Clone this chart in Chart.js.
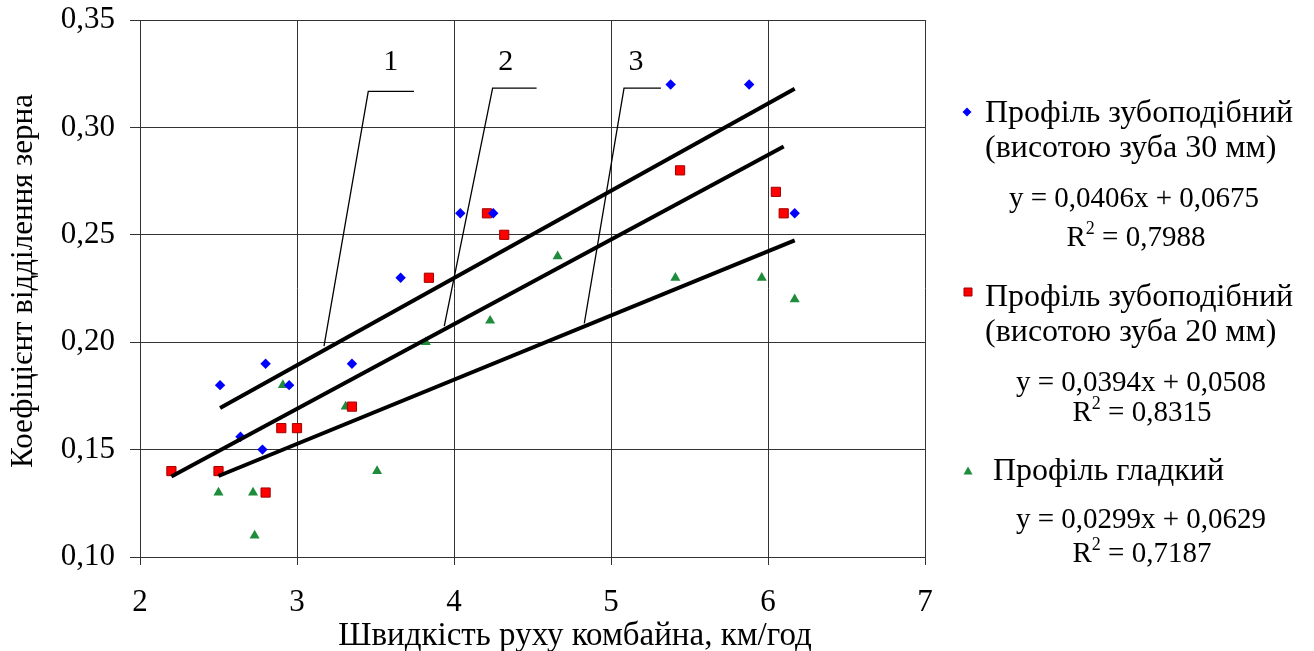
<!DOCTYPE html>
<html>
<head>
<meta charset="utf-8">
<title>Коефіцієнт відділення зерна</title>
<script src="https://cdn.jsdelivr.net/npm/chart.js"></script>
<style>
  html, body { margin: 0; padding: 0; background: #fff; }
  #wrap { position: relative; width: 1314px; height: 651px; }
</style>
</head>
<body>
<div id="wrap"><canvas id="myChart"></canvas></div>
<script>
// профіль зубоподібний, висота зуба 30 мм
const blueX = [2.51, 2.64, 2.78, 2.80, 2.95, 3.35, 3.66, 4.04, 4.25, 5.38, 5.88, 6.17];
const blueY = [0.18, 0.156, 0.15, 0.19, 0.18, 0.19, 0.23, 0.26, 0.26, 0.32, 0.32, 0.26];
// профіль зубоподібний, висота зуба 20 мм
const redX = [2.20, 2.50, 2.80, 2.90, 3.00, 3.35, 3.84, 4.21, 4.32, 5.44, 6.05, 6.10];
const redY = [0.14, 0.14, 0.13, 0.16, 0.16, 0.17, 0.23, 0.26, 0.25, 0.28, 0.27, 0.26];
// профіль гладкий
const greenX = [2.50, 2.72, 2.73, 2.91, 3.31, 3.51, 3.82, 4.23, 4.66, 5.41, 5.96, 6.17];
const greenY = [0.13, 0.13, 0.11, 0.18, 0.17, 0.14, 0.20, 0.21, 0.24, 0.23, 0.23, 0.22];

// лінії тренду (кінці ліній)
const trend1X = [2.51, 6.17];
const trend1Y = [0.1694, 0.3180];
const trend2X = [2.20, 6.10];
const trend2Y = [0.1375, 0.2911];
const trend3X = [2.50, 6.17];
const trend3Y = [0.1377, 0.2474];

// виноски 1, 2, 3
const call1X = [3.172, 3.454, 3.745];
const call1Y = [0.1982, 0.3168, 0.3168];
const call2X = [3.938, 4.246, 4.526];
const call2Y = [0.2075, 0.3183, 0.3183];
const call3X = [4.830, 5.083, 5.318];
const call3Y = [0.2088, 0.3183, 0.3183];
const callText = ['1', '2', '3'];
const callTextX = [3.597, 4.329, 5.159];
const callTextY = [0.3306, 0.3306, 0.3306];

const xTicks = [2, 3, 4, 5, 6, 7];
const yTicks = [0.10, 0.15, 0.20, 0.25, 0.30, 0.35];
const yTickLabels = ['0,10', '0,15', '0,20', '0,25', '0,30', '0,35'];

const seriesNames = [
  ['Профіль зубоподібний', '(висотою зуба 30 мм)'],
  ['Профіль зубоподібний', '(висотою зуба 20 мм)'],
  ['Профіль гладкий']
];
const eqTexts = ['y = 0,0406x + 0,0675', 'y = 0,0394x + 0,0508', 'y = 0,0299x + 0,0629'];
const r2Texts = ['0,7988', '0,8315', '0,7187'];

const xTitle = 'Швидкість руху комбайна, км/год';
const yTitle = 'Коефіцієнт відділення зерна';

const FONT = '"Liberation Serif", "Times New Roman", serif';
const BLUE = '#0000ff', RED = '#ff0000', GREEN = '#1e8c3a';

function pts(xs, ys) { return xs.map((x, i) => ({ x: x, y: ys[i] })); }

function marker(ctx, kind, x, y, s) {
  ctx.beginPath();
  if (kind === 'diamond') {
    ctx.moveTo(x, y - s); ctx.lineTo(x + s, y); ctx.lineTo(x, y + s); ctx.lineTo(x - s, y);
    ctx.closePath(); ctx.fillStyle = BLUE; ctx.fill();
  } else if (kind === 'square') {
    ctx.rect(x - s, y - s, 2 * s, 2 * s);
    ctx.fillStyle = RED; ctx.fill();
    ctx.strokeStyle = '#a00000'; ctx.lineWidth = 1; ctx.stroke();
  } else {
    ctx.moveTo(x, y - s); ctx.lineTo(x + s, y + s * 0.8); ctx.lineTo(x - s, y + s * 0.8);
    ctx.closePath(); ctx.fillStyle = GREEN; ctx.fill();
  }
}

function r2Line(ctx, cx, base, val) {
  const big = '29px ' + FONT, small = '18px ' + FONT;
  ctx.font = big; const wR = ctx.measureText('R').width;
  const wRest = ctx.measureText(' = ' + val).width;
  ctx.font = small; const w2 = ctx.measureText('2').width;
  let x = cx - (wR + w2 + wRest) / 2;
  ctx.textAlign = 'left';
  ctx.font = big; ctx.fillText('R', x, base); x += wR;
  ctx.font = small; ctx.fillText('2', x, base - 12); x += w2;
  ctx.font = big; ctx.fillText(' = ' + val, x, base);
}

const overlay = {
  id: 'overlay',
  afterDraw(chart) {
    const ctx = chart.ctx, xs = chart.scales.x, ys = chart.scales.y;
    ctx.save();
    ctx.fillStyle = '#000';
    ctx.textBaseline = 'middle';
    ctx.textAlign = 'center';
    ctx.font = '30px ' + FONT;
    callText.forEach((t, i) => {
      ctx.fillText(t, xs.getPixelForValue(callTextX[i]), ys.getPixelForValue(callTextY[i]));
    });

    // назви осей
    ctx.textBaseline = 'alphabetic';
    ctx.font = '33px ' + FONT;
    ctx.fillText(xTitle, 575, 645);
    ctx.save();
    ctx.translate(32, 281);
    ctx.rotate(-Math.PI / 2);
    ctx.font = '31px ' + FONT;
    ctx.fillText(yTitle, 0, 0);
    ctx.restore();

    // легенда
    marker(ctx, 'diamond', 967, 112, 4.5);
    marker(ctx, 'square', 968, 292, 4);
    marker(ctx, 'triangle', 968, 471, 4.5);
    ctx.fillStyle = '#000';
    ctx.textAlign = 'left';
    ctx.font = '32px ' + FONT;
    ctx.fillText(seriesNames[0][0], 985, 122);
    ctx.fillText(seriesNames[0][1], 985, 157);
    ctx.fillText(seriesNames[1][0], 985, 306);
    ctx.fillText(seriesNames[1][1], 985, 341);
    ctx.fillText(seriesNames[2][0], 993, 480);

    ctx.textAlign = 'center';
    ctx.font = '29px ' + FONT;
    ctx.fillText(eqTexts[0], 1134, 207);
    ctx.fillText(eqTexts[1], 1141, 391);
    ctx.fillText(eqTexts[2], 1141, 528);
    r2Line(ctx, 1136, 246, r2Texts[0]);
    r2Line(ctx, 1142, 421, r2Texts[1]);
    r2Line(ctx, 1142, 562, r2Texts[2]);
    ctx.restore();
  }
};

const lineDs = (xs, ys, w) => ({
  data: pts(xs, ys), showLine: true, borderColor: '#000', borderWidth: w,
  pointRadius: 0, fill: false, order: 0
});

const ctx = document.getElementById('myChart').getContext('2d');
new Chart(ctx, {
  type: 'scatter',
  data: {
    datasets: [
      lineDs(trend1X, trend1Y, 4),
      lineDs(trend2X, trend2Y, 4),
      lineDs(trend3X, trend3Y, 4),
      lineDs(call1X, call1Y, 1.3),
      lineDs(call2X, call2Y, 1.3),
      lineDs(call3X, call3Y, 1.3),
      { data: pts(blueX, blueY), pointStyle: 'rectRot', pointRadius: 5.2,
        backgroundColor: BLUE, borderColor: BLUE, borderWidth: 0, order: 1 },
      { data: pts(redX, redY), pointStyle: 'rect', pointRadius: 6.5,
        backgroundColor: RED, borderColor: '#a00000', borderWidth: 1, order: 1 },
      { data: pts(greenX, greenY), pointStyle: 'triangle', pointRadius: 5.8,
        backgroundColor: GREEN, borderColor: GREEN, borderWidth: 0, order: 1 }
    ]
  },
  options: {
    responsive: true,
    maintainAspectRatio: false,
    animation: false,
    layout: { autoPadding: false, padding: { left: 0, top: 20, right: 389, bottom: 0 } },
    plugins: { legend: { display: false }, tooltip: { enabled: false } },
    scales: {
      x: {
        type: 'linear', min: 2, max: 7,
        afterFit: s => { s.height = 94; s.paddingLeft = 0; s.paddingRight = 0; },
        afterBuildTicks: s => { s.ticks = xTicks.map(v => ({ value: v })); },
        ticks: { color: '#000', font: { family: FONT, size: 31 }, padding: 19,
                 callback: v => String(v) },
        grid: { color: '#333', lineWidth: 1, tickLength: 8, tickColor: '#333' },
        border: { color: '#333', width: 1 }
      },
      y: {
        type: 'linear', min: 0.10, max: 0.35,
        afterFit: s => { s.width = 140; s.paddingTop = 0; s.paddingBottom = 0; },
        afterBuildTicks: s => { s.ticks = yTicks.map(v => ({ value: v })); },
        ticks: { color: '#000', font: { family: FONT, size: 31 }, padding: 15,
                 callback: (v, i) => yTickLabels[i] },
        grid: { color: '#333', lineWidth: 1, tickLength: 10, tickColor: '#333' },
        border: { color: '#333', width: 1 }
      }
    }
  },
  plugins: [overlay]
});
</script>
</body>
</html>
